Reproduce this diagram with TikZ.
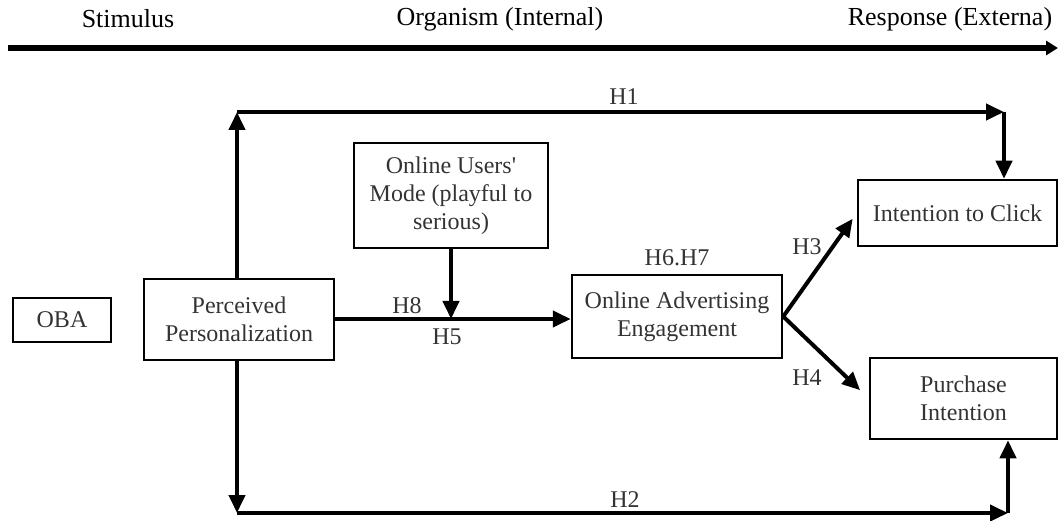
\documentclass[tikz,border=0pt]{standalone}
\usepackage{fontspec}
\setmainfont{Liberation Serif}
\usetikzlibrary{positioning,arrows.meta}

\begin{document}
\begin{tikzpicture}
	[x=1pt, y=-1pt,
	box/.style={draw, line width=2.5pt, align=center, inner sep=0pt, text=black!80,
		font=\fontsize{24}{28}\selectfont},
	link/.style={line width=4pt, -{Triangle[length=18pt, width=16pt]}},
	hyp/.style={text=black!80, font=\fontsize{24}{28}\selectfont},
	stage/.style={font=\fontsize{26}{30}\selectfont}]
	\useasboundingbox (0,0) rectangle (1058,521);

	% stages along the top
	\node[stage] (stim) at (128,19) {Stimulus};
	\node[stage] (org) at (500,19) {Organism (Internal)};
	\node[stage] (resp) at (950,19) {Response (Externa)};
	\coordinate (axisl) at (8,48);
	\coordinate (axisr) at (1058,48);
	\draw[line width=6pt, -{Triangle[length=12pt, width=14pt]}] (axisl) -- (axisr);

	% boxes
	\node[box, minimum width=98pt, minimum height=44pt] (oba) at (62,320) {OBA};
	\node[box, minimum width=190pt, minimum height=81pt] (pp) at (239,319.5)
		{Perceived\\Personalization};
	\node[box, minimum width=194pt, minimum height=105pt] (oum) at (451,195.5)
		{Online Users\textquotesingle\\Mode (playful to\\serious)};
	\node[box, minimum width=210pt, minimum height=83pt] (oae) at (677,316.5)
		{Online Advertising\\Engagement};
	\node[box, minimum width=199pt, minimum height=66pt] (itc) at (957.5,213)
		{Intention to Click};
	\node[box, minimum width=187pt, minimum height=81pt] (pi) at (963.5,398.5)
		{Purchase\\Intention};

	% corners of the long paths
	\coordinate (h1l) at (237,112);
	\coordinate (h1r) at (1004,112);
	\coordinate (h2l) at (237,513);
	\coordinate (h2r) at (1008,513);
	\coordinate (mod) at (451,319);

	% H1 and H2
	\draw[link] (pp.north -| h1l) -- (h1l);
	\draw[link] (h1l) -- (h1r);
	\draw[link] (h1r) -- (h1r |- itc.north);
	\draw[link] (pp.south -| h2l) -- (h2l);
	\draw[link] (h2l) -- (h2r);
	\draw[link] (h2r) -- (h2r |- pi.south);

	% H5 with moderator
	\draw[link] (pp.east |- mod) -- (oae.west |- mod);
	\draw[link] (oum.south) -- (mod);

	% H3 and H4
	\draw[link, shorten >=7pt] (oae.east) -- (itc.west);
	\draw[link, shorten >=12pt] (oae.east) -- (pi.west);

	% labels
	\node[hyp] (lh1) at (624,97) {H1};
	\node[hyp] (lh2) at (625,500) {H2};
	\node[hyp] (lh3) at (807,247) {H3};
	\node[hyp] (lh4) at (807,378) {H4};
	\node[hyp] (lh5) at (447,337) {H5};
	\node[hyp] (lh8) at (407,306) {H8};
	\node[hyp] (lh67) at (677,258) {H6.H7};
\end{tikzpicture}
\end{document}
